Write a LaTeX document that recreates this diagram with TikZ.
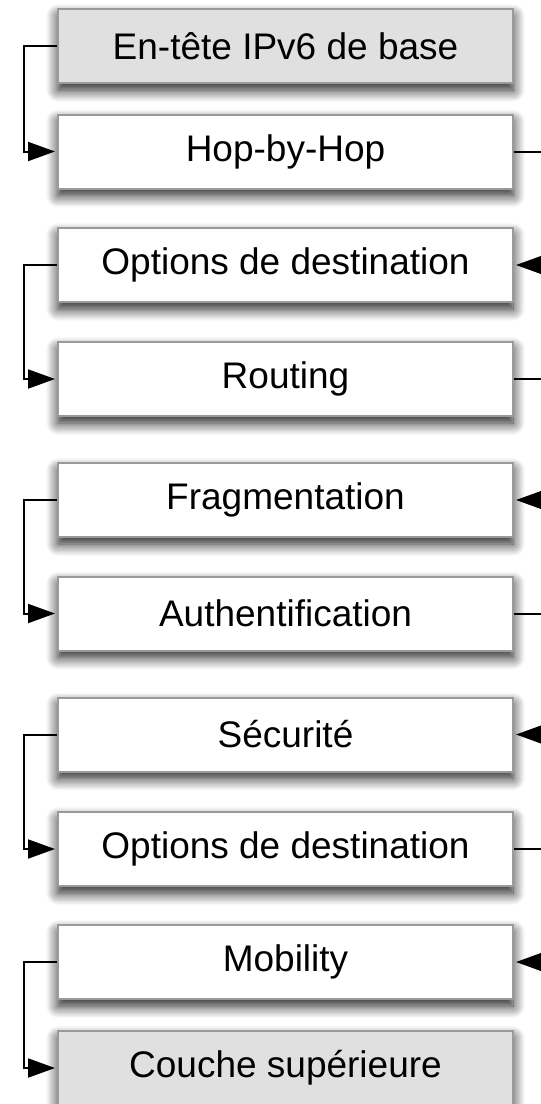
\documentclass[tikz,border=0pt]{standalone}
\usepackage{fontspec}
\setmainfont{Liberation Sans}
\usepackage{tikz}
\usetikzlibrary{calc}
\usetikzlibrary{arrows.meta}
\usetikzlibrary{shadows.blur}

\definecolor{hdrgray}{HTML}{E0E0E0}
\definecolor{edgegray}{HTML}{9A9A9A}

\begin{document}
\begin{tikzpicture}[x=1pt,y=-1pt,
    font=\fontsize{37pt}{44pt}\selectfont,
    ext/.style={draw=edgegray,line width=2pt,fill=white,minimum width=455pt,minimum height=74pt,inner sep=0pt,
        blur shadow={shadow xshift=0pt,shadow yshift=-7pt,shadow blur radius=12pt,shadow blur steps=10,shadow opacity=90}},
    hdr/.style={ext,fill=hdrgray},
    link/.style={line width=2pt,-{Triangle[length=27pt 0 0,width=19pt 0 0]},shorten >=2pt},
    leftloop/.style={to path={-- ++(-33,0) |- (\tikztotarget)}},
    rightloop/.style={to path={-- ++(50,0) |- (\tikztotarget)}}]
\useasboundingbox (0,0) rectangle (541,1104);
\clip (0,0) rectangle (541,1104);
\node[hdr] (base) at (285.5,46) {En-tête IPv6 de base};
\node[ext] (hop) at (285.5,151.5) {Hop-by-Hop};
\node[ext] (dst1) at (285.5,265) {Options de destination};
\node[ext] (rout) at (285.5,379) {Routing};
\node[ext] (frag) at (285.5,500) {Fragmentation};
\node[ext] (auth) at (285.5,613.5) {Authentification};
\node[ext] (sec) at (285.5,734.5) {Sécurité};
\node[ext] (dst2) at (285.5,849) {Options de destination};
\node[ext] (mob) at (285.5,962) {Mobility};
\node[hdr] (upper) at (285.5,1068) {Couche supérieure};
\path[link]
    (base.west) edge[leftloop] (hop.west)
    (dst1.west) edge[leftloop] (rout.west)
    (frag.west) edge[leftloop] (auth.west)
    (sec.west) edge[leftloop] (dst2.west)
    (mob.west) edge[leftloop] (upper.west)
    (hop.east) edge[rightloop] (dst1.east)
    (rout.east) edge[rightloop] (frag.east)
    (auth.east) edge[rightloop] (sec.east)
    (dst2.east) edge[rightloop] (mob.east)
;
\end{tikzpicture}
\end{document}
